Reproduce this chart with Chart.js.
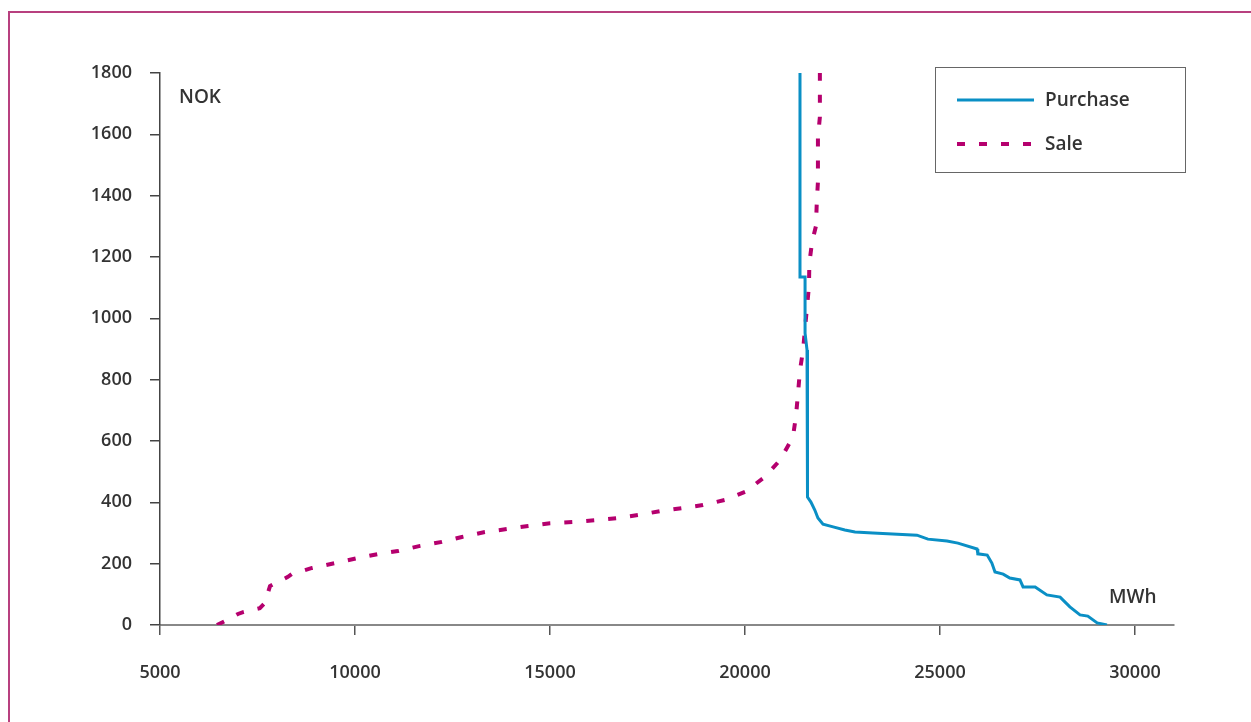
<!DOCTYPE html>
<html lang="en">
<head>
  <meta charset="UTF-8" />
  <title>Purchase and sale curves</title>
  <style>
    body {
      margin: 0;
      background-color: #ffffff;
    }
    #chart-wrap {
      width: 1251px;
      height: 722px;
    }
  </style>
</head>
<body>
  <div id="chart-wrap">
    <canvas id="curve-chart" width="1251" height="722"></canvas>
  </div>

  <script src="https://cdn.jsdelivr.net/npm/chart.js"></script>
  <script>
    // Purchase curve (MWh, NOK).
    const purchaseMwh = [21410, 21410, 21540, 21540, 21590, 21590, 21615, 21690, 21790, 21870,
      22000, 22260, 22560, 22820, 23280, 24410, 24690, 25180, 25460, 25950,
      25970, 26210, 26330, 26410, 26620, 26790, 27050, 27130, 27440, 27740,
      28080, 28330, 28590, 28790, 29030, 29280];
    const purchaseNok = [1800, 1135, 1135, 952, 897, 496, 417, 401, 375, 349,
      329, 320, 310, 303, 300, 293, 280, 274, 267, 248,
      232, 228, 202, 173, 166, 153, 147, 124, 124, 98,
      91, 59, 33, 29, 7, 0];

    // Sale curve (MWh, NOK).
    const saleMwh = [6460, 6700, 7000, 7130, 7560, 7690, 7780, 7820, 8280, 8380,
      8900, 9490, 10050, 10620, 11100, 11670, 12230, 12740, 13330, 13900,
      14440, 15000, 15620, 16180, 16740, 17280, 17850, 18380, 18920, 19490,
      20000, 20510, 20900, 21230, 21310, 21360, 21410, 21490, 21540, 21590,
      21640, 21650, 21720, 21820, 21840, 21870, 21870, 21870, 21920, 21920, 21920];
    const saleNok = [0, 15, 36, 42, 55, 72, 110, 127, 157, 166,
      186, 202, 218, 232, 241, 258, 271, 287, 303, 313,
      323, 332, 336, 342, 349, 359, 372, 381, 391, 408,
      434, 483, 538, 613, 685, 757, 831, 897, 968, 1037,
      1105, 1180, 1249, 1301, 1376, 1445, 1516, 1588, 1657, 1728, 1800];

    const xTicks = [5000, 10000, 15000, 20000, 25000, 30000];
    const yTicks = [0, 200, 400, 600, 800, 1000, 1200, 1400, 1600, 1800];

    const blue = '#0a8fc5';
    const magenta = '#b5006e';
    const textColor = '#333333';
    const fontFamily = '"Open Sans", Arial, sans-serif';

    const toPoints = (xs, ys) => xs.map((x, i) => ({ x: x, y: ys[i] }));

    // Frame, axis unit labels and the boxed legend.
    const decorations = {
      id: 'decorations',
      afterDraw(chart) {
        const ctx = chart.ctx;
        ctx.save();

        // magenta frame, top and left only
        ctx.strokeStyle = '#b8407f';
        ctx.lineWidth = 2;
        ctx.beginPath();
        ctx.moveTo(1251, 12);
        ctx.lineTo(9, 12);
        ctx.lineTo(9, 722);
        ctx.stroke();

        ctx.fillStyle = textColor;
        ctx.font = '600 19px ' + fontFamily;
        ctx.textBaseline = 'middle';
        ctx.textAlign = 'left';
        ctx.fillText('NOK', 179, 98);
        ctx.fillText('MWh', 1109, 598);

        // legend box
        ctx.strokeStyle = '#666666';
        ctx.lineWidth = 1;
        ctx.strokeRect(935.5, 67.5, 250, 105);

        const sets = chart.data.datasets;
        const rows = [101, 145];
        sets.forEach((ds, i) => {
          ctx.strokeStyle = ds.borderColor;
          ctx.lineWidth = ds.borderWidth;
          ctx.setLineDash(ds.borderDash || []);
          ctx.beginPath();
          ctx.moveTo(957, rows[i] - 1);
          ctx.lineTo(1034, rows[i] - 1);
          ctx.stroke();
          ctx.setLineDash([]);
          ctx.fillText(ds.label, 1045, rows[i]);
        });

        ctx.restore();
      }
    };

    new Chart(document.getElementById('curve-chart'), {
      type: 'line',
      data: {
        datasets: [
          {
            label: 'Purchase',
            data: toPoints(purchaseMwh, purchaseNok),
            borderColor: blue,
            borderWidth: 3,
            pointRadius: 0,
            tension: 0,
            fill: false
          },
          {
            label: 'Sale',
            data: toPoints(saleMwh, saleNok),
            borderColor: magenta,
            borderWidth: 4,
            borderDash: [8, 14],
            pointRadius: 0,
            tension: 0,
            fill: false
          }
        ]
      },
      options: {
        responsive: false,
        animation: false,
        devicePixelRatio: 1,
        layout: {
          padding: { left: 0, top: 73, right: 77, bottom: 0 }
        },
        plugins: {
          legend: { display: false },
          tooltip: { enabled: false }
        },
        scales: {
          x: {
            type: 'linear',
            min: 5000,
            max: 31000,
            afterFit: (scale) => { scale.height = 97; },
            afterBuildTicks: (scale) => {
              scale.ticks = xTicks.map(v => ({ value: v }));
            },
            border: { display: true, color: '#888888', width: 2 },
            grid: {
              drawOnChartArea: false,
              drawTicks: true,
              tickLength: 10,
              tickColor: '#555555',
              lineWidth: 1.5
            },
            ticks: {
              color: textColor,
              padding: 27,
              maxRotation: 0,
              callback: (value) => String(value),
              font: { family: fontFamily, size: 18, weight: '600' }
            }
          },
          y: {
            min: 0,
            max: 1800,
            afterFit: (scale) => { scale.width = 160; },
            afterBuildTicks: (scale) => {
              scale.ticks = yTicks.map(v => ({ value: v }));
            },
            border: { display: true, color: '#444444', width: 1.5 },
            grid: {
              drawOnChartArea: false,
              drawTicks: true,
              tickLength: 10,
              tickColor: '#444444',
              lineWidth: 1.5
            },
            ticks: {
              color: textColor,
              padding: 18,
              callback: (value) => String(value),
              font: { family: fontFamily, size: 18, weight: '600' }
            }
          }
        }
      },
      plugins: [decorations]
    });
  </script>
</body>
</html>
